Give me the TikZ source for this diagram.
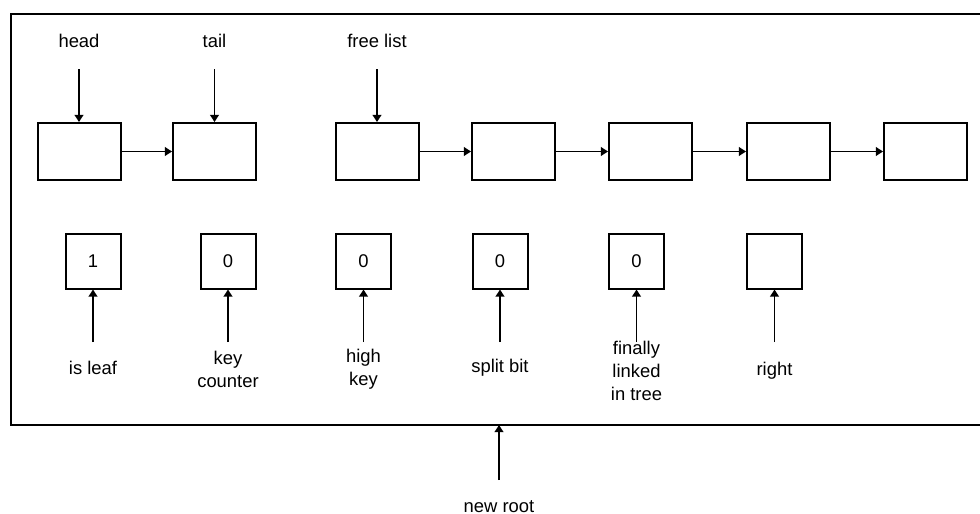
\documentclass[tikz,border=0pt]{standalone}
\usepackage{fontspec}
\setmainfont{Liberation Sans}
\usetikzlibrary{arrows.meta}
\tikzset{
  ptr/.style={-{Triangle[length=3.6pt,width=4.4pt]},line width=0.9pt},
  cell/.style={draw,line width=1pt,minimum width=41.5pt,minimum height=28.5pt,inner sep=0pt},
  flag/.style={draw,line width=1pt,minimum size=27.5pt,inner sep=0pt,font=\fontsize{9.2}{11.5}\selectfont},
  lbl/.style={font=\fontsize{9.2}{11.5}\selectfont,align=center,inner sep=1pt},
  frame/.style={line width=1pt},
}
\begin{document}
\begin{tikzpicture}[x=0.5pt,y=-0.5pt]
  \useasboundingbox (0,0) rectangle (980,514);
  % outer frame, open on the right
  \draw[frame] (980,14) -- (11,14) -- (11,425) -- (980,425);
  % list cells
  \foreach \i/\x in {1/79,2/214.5,3/377,4/513.5,5/650.5,6/788.5,7/925.5}
    \node[cell] (c\i) at (\x,151.5) {};
  \foreach \i/\j in {1/2,3/4,4/5,5/6,6/7}
    \draw[ptr] (c\i.east) -- (c\j.west);
  % pointers from above
  \foreach \n/\t/\i/\x in {head/head/1/79,tail/tail/2/214.5,free/free list/3/377}{
    \node[lbl] (l\n) at (\x,41) {\t};
    \coordinate (p\n) at (\x,69);
    \draw[ptr] (p\n) -- (c\i.north);
  }
  % flag fields
  \foreach \i/\x/\v in {1/93/1,2/228/0,3/363.5/0,4/500/0,5/636.5/0,6/774.5/{}}
    \node[flag] (f\i) at (\x,261) {\v};
  \foreach \i/\x/\y/\t in {1/93/368/is leaf,2/228/369/key\\counter,3/363.5/369/high\\key,
      4/500/368/split bit,5/636.5/371/finally\\linked\\in tree,6/774.5/371/right}{
    \node[lbl] (m\i) at (\x,\y) {\t};
    \coordinate (q\i) at (\x,342);
    \draw[ptr] (q\i) -- (f\i.south);
  }
  % new root
  \coordinate (rin) at (499,425);
  \coordinate (rfrom) at (499,480);
  \draw[ptr] (rfrom) -- (rin);
  \node[lbl] (lroot) at (499,507) {new root};
\end{tikzpicture}
\end{document}
